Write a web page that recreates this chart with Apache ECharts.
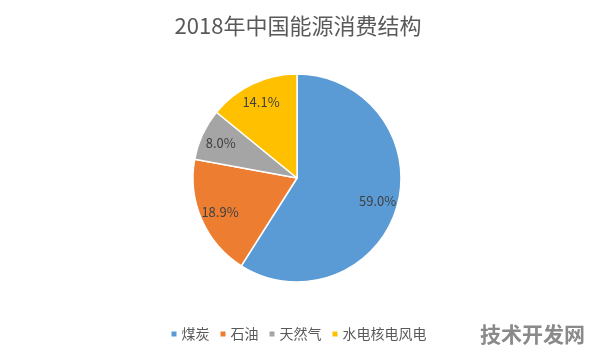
<!DOCTYPE html>
<html><head><meta charset="utf-8">
<script src="https://cdn.jsdelivr.net/npm/echarts@6/dist/echarts.min.js"></script>
<style>html,body{margin:0;padding:0;background:#fff}#c{width:596px;height:356px}</style>
</head><body><div id="c"></div>
<script>
const titleText = '2018年中国能源消费结构';
const categories = ['煤炭', '石油', '天然气', '水电核电风电'];
const values = [59.0, 18.9, 8.0, 14.1];
const colors = ['#5B9BD5', '#ED7D31', '#A5A5A5', '#FFC000'];
const watermark = '技术开发网';

const data = categories.map((n, i) => ({ name: n, value: values[i], itemStyle: { color: colors[i] } }));
const labelData = categories.map((n, i) => ({ name: n, value: values[i] }));
const font = '"Noto Sans CJK SC", "Microsoft YaHei", sans-serif';

const chart = echarts.init(document.getElementById('c'), null, { renderer: 'canvas' });
chart.setOption({
  backgroundColor: '#fff',
  animation: false,
  color: colors,
  title: [{
    text: titleText, left: 'center', top: 10,
    textStyle: { fontFamily: font, fontSize: 22, fontWeight: 'normal', color: '#595959' }
  }, {
    text: watermark, right: 6, top: 319,
    textStyle: { fontFamily: font, fontSize: 21, fontWeight: 'bold', color: '#8a8a8a' }
  }],
  legend: {
    bottom: 10, left: 'center', data: categories,
    icon: 'rect', itemWidth: 7, itemHeight: 7, itemGap: 9,
    textStyle: { fontFamily: font, fontSize: 14, color: '#595959', padding: [0, 0, 0, -1] }
  },
  series: [{
    type: 'pie', center: [297, 178], radius: [0, 104],
    startAngle: 90, clockwise: true,
    data: data,
    itemStyle: { borderColor: '#fff', borderWidth: 1.5 },
    label: { show: false }, labelLine: { show: false },
    silent: true
  }, {
    type: 'pie', center: [297, 178], radius: [58, 104],
    startAngle: 90, clockwise: true,
    data: labelData,
    itemStyle: { color: 'rgba(0,0,0,0)', borderWidth: 0 },
    label: {
      show: true, position: 'inside',
      formatter: p => p.value.toFixed(1) + '%',
      fontFamily: font, fontSize: 13, color: '#404040'
    },
    labelLine: { show: false },
    silent: true
  }]
});
</script></body></html>
